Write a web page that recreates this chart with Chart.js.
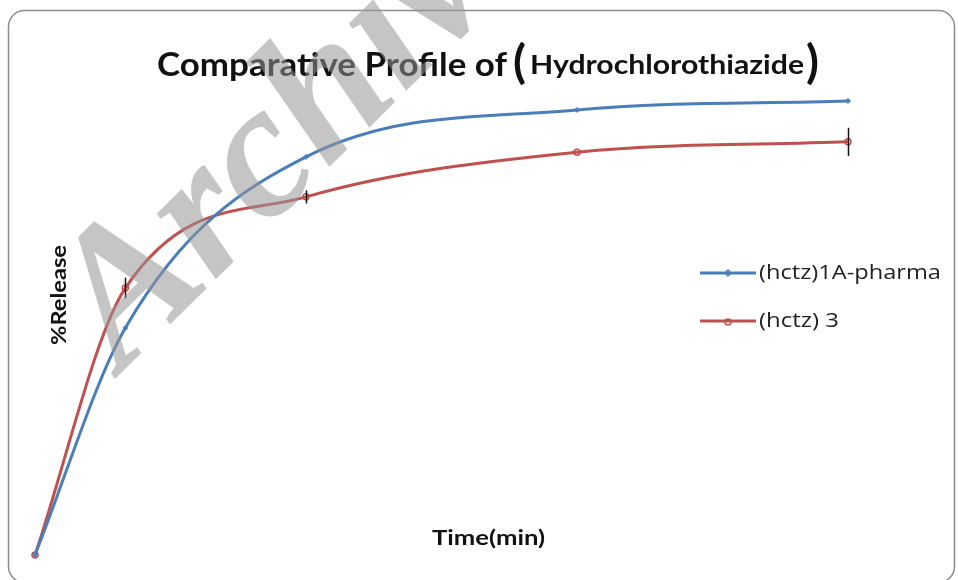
<!DOCTYPE html>
<html>
<head>
<meta charset="utf-8">
<script src="https://cdn.jsdelivr.net/npm/chart.js@4/dist/chart.umd.min.js"></script>
<style>
  html, body { margin: 0; padding: 0; background: #fff; }
  #wrap { width: 958px; height: 580px; position: relative; }
</style>
</head>
<body>
<div id="wrap"><canvas id="profile"></canvas></div>
<script>
// time points (min) and % release
const times = [0, 5, 15, 30, 45];
const pharma1A = [0, 48.3, 84.7, 94.7, 96.6];
const hctz3 = [0, 56.8, 76.2, 85.7, 87.9];
const hctz3Err = [0, 2.2, 1.4, 0, 3.0];

const seriesNames = ['(hctz)1A-pharma', '(hctz) 3'];
const blue = '#4a7ebb';
const red = '#c0504d';

const toPoints = (ys) => times.map((t, i) => ({ x: t, y: ys[i] }));

// draw text squeezed/stretched to a given width
function fitText(ctx, text, x, y, w) {
  const m = ctx.measureText(text).width;
  ctx.save();
  ctx.translate(x, y);
  ctx.scale(w / m, 1);
  ctx.fillText(text, 0, 0);
  ctx.restore();
}

// frame, titles, legend, error bars and the watermark
const decor = {
  id: 'decor',
  beforeDraw(chart) {
    const ctx = chart.ctx;
    ctx.save();
    ctx.fillStyle = '#fff';
    ctx.fillRect(0, 0, chart.width, chart.height);
    ctx.strokeStyle = '#8c8c8c';
    ctx.lineWidth = 1.5;
    ctx.beginPath();
    ctx.roundRect(8.5, 10.5, 946, 572, 16);
    ctx.stroke();
    ctx.restore();
  },
  afterDatasetsDraw(chart) {
    const ctx = chart.ctx;
    const xs = chart.scales.x, ys = chart.scales.y;
    ctx.save();
    // error bars on series 2
    ctx.strokeStyle = '#111';
    ctx.lineWidth = 1.5;
    times.forEach((t, i) => {
      if (!hctz3Err[i]) return;
      const px = Math.round(xs.getPixelForValue(t)) + 0.5;
      ctx.beginPath();
      ctx.moveTo(px, ys.getPixelForValue(hctz3[i] + hctz3Err[i]));
      ctx.lineTo(px, ys.getPixelForValue(hctz3[i] - hctz3Err[i]));
      ctx.stroke();
    });

    // title with mixed sizes
    ctx.fillStyle = '#111';
    ctx.textBaseline = 'alphabetic';
    ctx.textAlign = 'left';
    ctx.font = 'bold 32px Lato';
    fitText(ctx, 'Comparative Profile of', 157, 76, 350);
    ctx.font = 'bold 46px Lato';
    fitText(ctx, '(', 513, 78, 13);
    fitText(ctx, ')', 806, 78, 13);
    ctx.font = 'bold 26px Lato';
    fitText(ctx, 'Hydrochlorothiazide', 530, 74, 274);

    // axis titles
    ctx.font = 'bold 20px Lato';
    fitText(ctx, 'Time(min)', 432, 545, 113);
    ctx.save();
    ctx.translate(66, 345);
    ctx.rotate(-Math.PI / 2);
    fitText(ctx, '%Release', 0, 0, 100);
    ctx.restore();

    // legend
    const rows = [[blue, 273, 'diamond', 182], [red, 321, 'circle', 80]];
    ctx.font = '20px "Open Sans"';
    ctx.textBaseline = 'middle';
    rows.forEach(([c, y, m, w], i) => {
      ctx.strokeStyle = c;
      ctx.lineWidth = 3;
      ctx.beginPath();
      ctx.moveTo(700, y);
      ctx.lineTo(756, y);
      ctx.stroke();
      ctx.lineWidth = 1.5;
      ctx.beginPath();
      if (m === 'circle') ctx.arc(728, y + 1, 3, 0, Math.PI * 2);
      else { ctx.moveTo(728, y - 3); ctx.lineTo(731, y); ctx.lineTo(728, y + 3); ctx.lineTo(725, y); ctx.closePath(); }
      ctx.stroke();
      ctx.fillStyle = '#222';
      fitText(ctx, seriesNames[i], 759, y, w);
    });
    ctx.restore();
  },
  afterDraw(chart) {
    const ctx = chart.ctx;
    ctx.save();
    ctx.translate(122, 372);
    ctx.rotate(-0.78);
    ctx.font = 'italic bold 192px "Liberation Serif"';
    ctx.fillStyle = 'rgba(150,150,150,0.55)';
    ctx.textBaseline = 'alphabetic';
    ctx.fillText('Archive', 0, 0);
    ctx.restore();
  }
};

new Chart(document.getElementById('profile'), {
  type: 'line',
  data: {
    datasets: [{
      label: seriesNames[0],
      data: toPoints(pharma1A),
      borderColor: blue,
      backgroundColor: blue,
      borderWidth: 3,
      cubicInterpolationMode: 'monotone',
      pointStyle: 'rectRot',
      pointRadius: 2.5,
      pointBorderWidth: 1
    }, {
      label: seriesNames[1],
      data: toPoints(hctz3),
      borderColor: red,
      backgroundColor: 'rgba(0,0,0,0)',
      borderWidth: 3,
      cubicInterpolationMode: 'monotone',
      pointStyle: 'circle',
      pointRadius: 3,
      pointBorderWidth: 1.5
    }]
  },
  options: {
    responsive: true,
    maintainAspectRatio: false,
    animation: false,
    clip: false,
    layout: { padding: { left: 35, right: 110, top: 85, bottom: 25 } },
    scales: {
      x: { type: 'linear', min: 0, max: 45, display: false },
      y: { min: 0, max: 100, display: false }
    },
    plugins: {
      legend: { display: false },
      title: { display: false },
      tooltip: { enabled: false }
    }
  },
  plugins: [decor]
});
</script>
</body>
</html>
